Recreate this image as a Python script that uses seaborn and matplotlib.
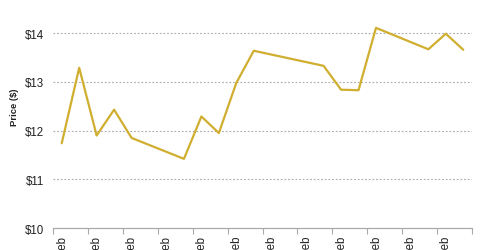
import matplotlib
matplotlib.use("Agg")
import matplotlib.pyplot as plt
import seaborn as sns
import pandas as pd
import numpy as np
from matplotlib.ticker import FixedLocator

# trading days in February 2016 (day of month)
days = [1, 2, 3, 4, 5, 8, 9, 10, 11, 12, 16, 17, 18, 19, 22, 23, 24]
prices = [11.74, 13.29, 11.90, 12.43, 11.85, 11.42, 12.29, 11.95, 12.98, 13.64,
          13.33, 12.84, 12.83, 14.11, 13.67, 13.99, 13.66]
tick_days = [1, 3, 5, 7, 9, 11, 13, 15, 17, 19, 21, 23]
tick_labels = [f"{d}-Feb" for d in tick_days]
y_ticks = [10, 11, 12, 13, 14]

sns.set_theme(style="white")
plt.rcParams['font.family'] = ['Liberation Sans', 'DejaVu Sans']

df = pd.DataFrame({"day": days, "price": prices})

fig = plt.figure(figsize=(4.8, 2.51), dpi=100)
ax = fig.add_axes([53/480, 1 - 229/251, (472 - 53)/480, (229 - 5)/251])

sns.lineplot(data=df, x="day", y="price", ax=ax, color="#D0AE30", linewidth=1.6)

ax.set_xlim(0.5, 24.5)
ax.set_ylim(10, 14.6)

ax.set_yticks(y_ticks)
ax.set_yticklabels([f"${v}" for v in y_ticks], fontsize=8.3, color="#222222")
ax.tick_params(axis="y", length=0, pad=6.5)

ax.set_xticks(tick_days)
ax.set_xticklabels(tick_labels, rotation=90, fontsize=8.3, color="#222222")
ax.tick_params(axis="x", which="major", length=0, pad=5)
ax.xaxis.set_minor_locator(FixedLocator([d + 0.5 for d in range(0, 25, 2)]))
ax.tick_params(axis="x", which="minor", length=4, width=0.8, color="#AAAAAA", bottom=True)

for v in y_ticks[1:]:
    ax.axhline(v, color="#A8A8A8", linestyle=(0, (1.5, 1.8)), linewidth=0.8, zorder=0)

for s in ["left", "right", "top"]:
    ax.spines[s].set_visible(False)
ax.spines["bottom"].set_color("#AAAAAA")
ax.spines["bottom"].set_linewidth(0.9)

ax.set_xlabel("")
ax.set_ylabel("Price ($)", fontsize=6.8, fontweight="bold", color="#222222")
ax.yaxis.set_label_coords(-0.082, 0.545)

fig.savefig("out.png", dpi=100)
